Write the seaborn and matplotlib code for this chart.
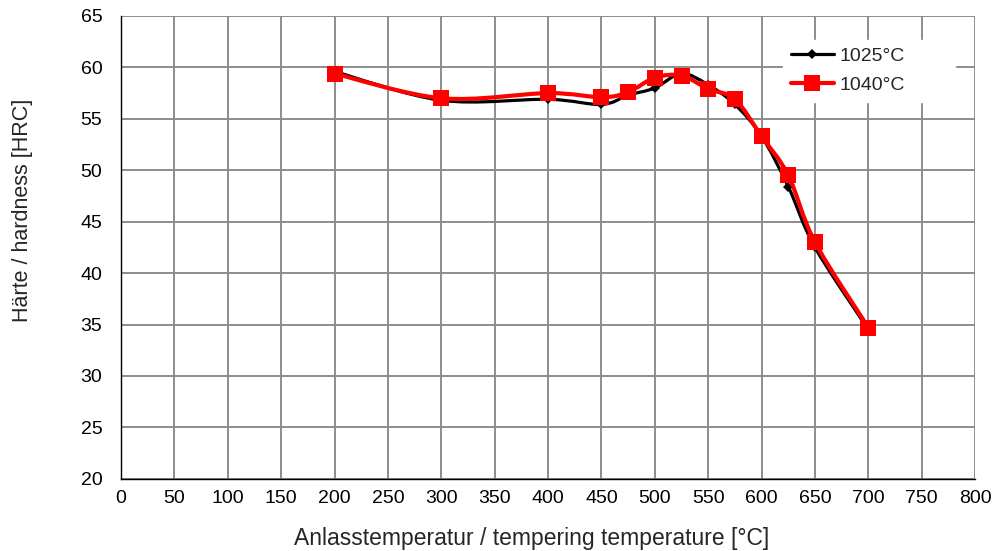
import pandas as pd
import numpy as np
import matplotlib.pyplot as plt
import seaborn as sns
from matplotlib.path import Path
from matplotlib.patches import PathPatch
from matplotlib.lines import Line2D

# tempering data
temps = [200, 300, 400, 450, 475, 500, 525, 550, 575, 600, 625, 650, 700]
hrc_1025 = [59.6, 56.8, 56.9, 56.4, 57.3, 58.0, 59.4, 58.3, 56.4, 53.3, 48.4, 42.5, 34.5]
hrc_1040 = [59.4, 57.0, 57.5, 57.1, 57.6, 59.0, 59.2, 57.9, 56.9, 53.3, 49.5, 43.0, 34.7]

df = pd.DataFrame({'temp': temps, '1025°C': hrc_1025, '1040°C': hrc_1040})


def smooth_path(x, y):
    # Excel-style smoothed line: cubic bezier through the points
    p = np.column_stack([x, y]).astype(float)
    pp = np.vstack([p[0], p, p[-1]])
    verts = [p[0]]
    codes = [Path.MOVETO]
    for i in range(len(p) - 1):
        p0, p1, p2, p3 = pp[i], pp[i + 1], pp[i + 2], pp[i + 3]
        verts += [p1 + (p2 - p0) / 6, p2 - (p3 - p1) / 6, p2]
        codes += [Path.CURVE4] * 3
    return Path(verts, codes)


sns.set_style('white')
plt.rcParams['font.family'] = ['Liberation Sans', 'DejaVu Sans']

fig = plt.figure(figsize=(9.92, 5.51), dpi=100)
ax = fig.add_axes([0.122, 0.131, 0.861, 0.84])

# smoothed lines
ax.add_patch(PathPatch(smooth_path(df['temp'], df['1025°C']), fill=False,
                       edgecolor='black', lw=2.3, zorder=3))
ax.add_patch(PathPatch(smooth_path(df['temp'], df['1040°C']), fill=False,
                       edgecolor='#ff0000', lw=3, zorder=4))
# markers
sns.lineplot(data=df, x='temp', y='1025°C', ax=ax, color='black', lw=0,
             marker='D', markersize=5, markeredgewidth=0, zorder=3.5, legend=False)
sns.lineplot(data=df, x='temp', y='1040°C', ax=ax, color='#ff0000', lw=0,
             marker='s', markersize=11.5, markeredgewidth=0, zorder=4.5, legend=False)

#--> axes <--#
ax.set_xlim(0, 800)
ax.set_ylim(20, 65)
ax.set_xticks(range(0, 801, 50))
ax.set_xticks(range(25, 800, 50), minor=True)
ax.set_yticks(range(20, 66, 5))
ax.grid(True, which='major', color='#8c8c8c', lw=1.4)
ax.set_axisbelow(True)
for s in ['top', 'right']:
    ax.spines[s].set_visible(False)
for s in ['left', 'bottom']:
    ax.spines[s].set_color('black')
    ax.spines[s].set_linewidth(1)
ax.tick_params(axis='both', which='major', labelsize=14, labelcolor='black', color='black', width=1)
ax.tick_params(axis='x', which='major', direction='inout', length=8, pad=4)
ax.tick_params(axis='x', which='minor', direction='in', length=3.5, width=1, color='black')
ax.tick_params(axis='y', which='major', direction='out', length=4.5, pad=9)

ax.set_xlabel('Anlasstemperatur / tempering temperature [°C]', fontsize=16.5)
ax.set_ylabel('Härte / hardness [HRC]', fontsize=15.5)
ax.xaxis.set_label_coords(0.481, -0.104)
ax.yaxis.set_label_coords(-0.103, 0.581)

handles = [Line2D([], [], color='black', lw=2.3, marker='D', markersize=5, markeredgewidth=0),
           Line2D([], [], color='#ff0000', lw=3, marker='s', markersize=11.5, markeredgewidth=0)]
leg = ax.legend(handles, ['1025°C', '1040°C'], loc='upper left',
                bbox_to_anchor=(0.775, 0.809, 0.201, 0.14), mode='expand',
                borderaxespad=0, frameon=True, fontsize=14, handlelength=2.2,
                handletextpad=0.3, labelspacing=0.6, borderpad=0.4)
leg.get_frame().set_edgecolor('white')
leg.get_frame().set_facecolor('white')
leg.get_frame().set_alpha(1)
leg.get_frame().set_boxstyle('square', pad=0)

fig.savefig('out.png', dpi=100)
